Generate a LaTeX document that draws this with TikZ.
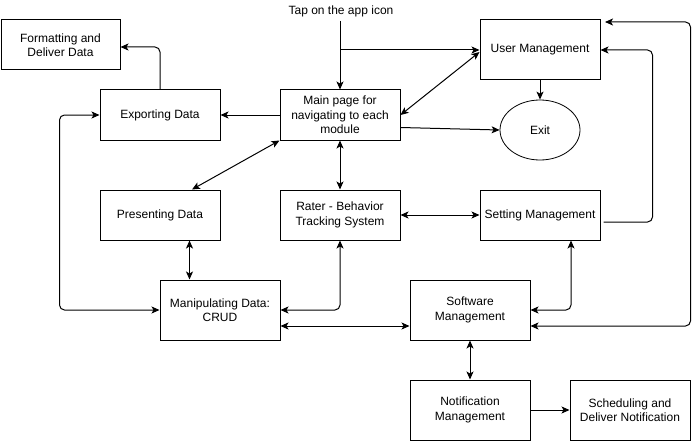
\documentclass[tikz,border=0pt]{standalone}
\usepackage{fontspec}
\setmainfont{Liberation Sans}
\usetikzlibrary{arrows.meta,calc,shapes.geometric}
\tikzset{
  box/.style={draw, line width=1pt, minimum width=120pt, minimum height=50pt, align=center, inner sep=2pt, font=\fontsize{12}{14.5}\selectfont},
  oval/.style={draw, ellipse, line width=0.8pt, minimum width=80pt, minimum height=60pt, inner sep=0pt, font=\fontsize{12}{14.5}\selectfont},
  conn/.style={line width=1pt, -{Stealth[length=8pt,width=7pt,inset=2pt]}},
  biconn/.style={line width=1pt, {Stealth[length=8pt,width=7pt,inset=2pt]}-{Stealth[length=8pt,width=7pt,inset=2pt]}},
}
\begin{document}
\begin{tikzpicture}[x=1pt,y=-1pt]
\useasboundingbox (0,0) rectangle (700,441);
\node[box, minimum width=119pt] (fmt) at (60.5,45) {Formatting and\\Deliver Data};
\node[box] (exp) at (160,115) {Exporting Data};
\node[box] (main) at (340,115) {Main page for\\navigating to each\\module};
\node[box, minimum height=60pt] (um) at (540,50) {User Management};
\node[oval] (exit) at (540,130) {Exit};
\node[box] (pres) at (160,215) {Presenting Data};
\node[box] (rater) at (340,215) {Rater - Behavior\\Tracking System};
\node[box] (set) at (540,215) {Setting Management};
\node[box, minimum height=60pt] (manip) at (220,310) {Manipulating Data:\\CRUD};
\node[box, minimum height=60pt] (soft) at (470,310) {Software\\Management};
\node[box, minimum height=60pt] (notif) at (470,410) {Notification\\Management};
\node[box, minimum height=60pt] (sched) at (630,410) {Scheduling and\\Deliver Notification};
\node[font=\fontsize{12}{14.5}\selectfont, inner sep=0pt] (tap) at (341,11) {Tap on the app icon};

\coordinate (t) at (340,21);
\coordinate (o1) at (605,22);
\coordinate (pm) at ($(manip.north west)+(30,0)$);

% tap
\draw[conn] (t) -- (main.north);
\draw[conn] (t |- um.west) -- (um.west);
% exporting -> formatting
\draw[conn, rounded corners=5pt] (exp.north) |- ($(fmt.east)+(0,2)$);
% main -> exporting
\draw[conn] (main.west) -- (exp.east);
% um <-> main
\draw[biconn] ($(um.west)+(0,2)$) -- (main.east);
% um -> exit
\draw[conn] (um.south) -- (exit.north);
% main -> exit
\draw[conn] ($(main.east)+(0,12.5)$) -- (exit.west);
% main <-> presenting
\draw[biconn] (main.south west) -- ($(pres.north)+(32,0)$);
% main <-> rater
\draw[biconn] (main.south) -- (rater.north);
% rater <-> setting
\draw[biconn] (rater.east) -- (set.west);
% setting -> um
\draw[conn, rounded corners=5pt] ($(set.east)+(3,7)$) -- ++(49,0) |- (um.east);
% outer loop
\draw[biconn, rounded corners=5pt] (o1) -| ($(soft.east)+(160,16)$) -- ($(soft.east)+(0,16)$);
% setting <-> software
\draw[biconn, rounded corners=5pt] ($(set.south)+(31,0)$) |- (soft.east);
% rater <-> manip
\draw[biconn, rounded corners=5pt] (rater.south) |- (manip.east);
% manip <-> software
\draw[biconn] ($(manip.east)+(0,16)$) -- ($(soft.west)+(0,16)$);
% presenting <-> manip
\draw[biconn] (pm |- pres.south) -- (pm);
% left loop
\draw[biconn, rounded corners=5pt] (exp.west) -| ($(manip.west)+(-100,0)$) -- (manip.west);
% software <-> notification
\draw[biconn] (soft.south) -- (notif.north);
% notification -> scheduling
\draw[conn] (notif.east) -- (sched.west);
\end{tikzpicture}
\end{document}
